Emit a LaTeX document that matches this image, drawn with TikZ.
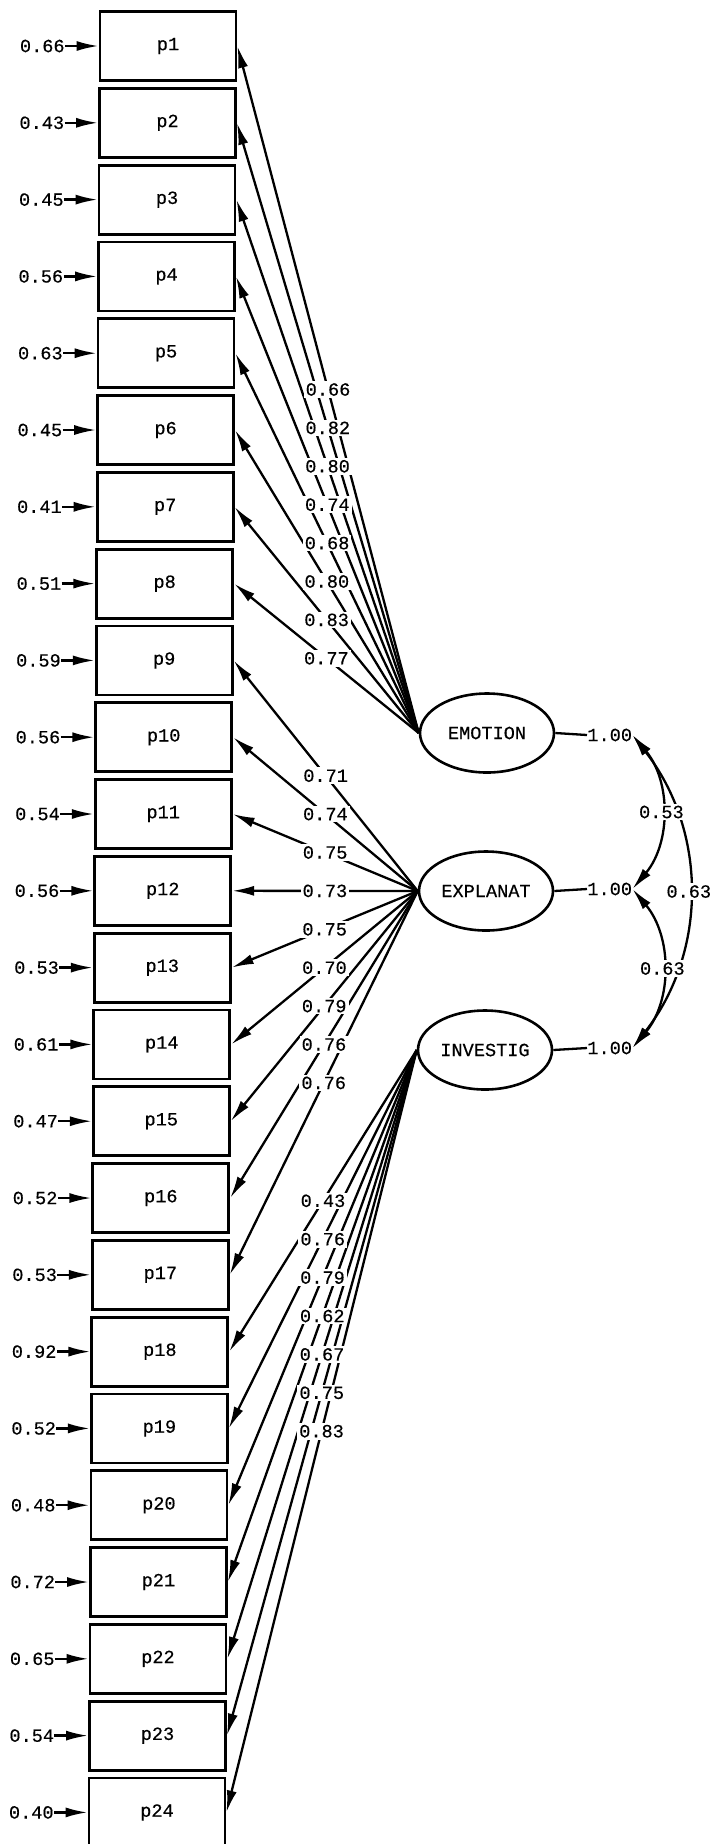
\documentclass[tikz,border=0pt]{standalone}
\usepackage{fontspec}
\setmainfont{Liberation Mono}[FakeBold=0.4]
\usetikzlibrary{arrows.meta,shapes.geometric}
\begin{document}
\begin{tikzpicture}[x=0.5pt,y=-0.5pt,
  font=\fontsize{9.3}{11}\selectfont,
  obs/.style={draw, line width=1.4pt, minimum width=68pt, minimum height=34.5pt, inner sep=0pt},
  lat/.style={draw, ellipse, line width=1.3pt, minimum width=67pt, minimum height=39.5pt, inner sep=0pt},
  tip/.style={-{Latex[length=11pt,width=5pt]}},
  both/.style={{Latex[length=11pt,width=5pt]}-{Latex[length=11pt,width=5pt]}},
  ln/.style={line width=1.15pt},
  lab/.style={fill=white, inner sep=1pt},
  val/.style={inner sep=0pt}]
\useasboundingbox (0,0) rectangle (713,1844);

% observed variables with error variances
\foreach \i/\e in {1/0.66,2/0.43,3/0.45,4/0.56,5/0.63,6/0.45,7/0.41,8/0.51,
                   9/0.59,10/0.56,11/0.54,12/0.56,13/0.53,14/0.61,15/0.47,16/0.52,
                   17/0.53,18/0.92,19/0.52,20/0.48,21/0.72,22/0.65,23/0.54,24/0.40} {
  \pgfmathsetmacro\cx{168-11*(\i-1)/23}
  \pgfmathsetmacro\cy{46+76.8*(\i-1)}
  \node[obs] (p\i) at (\cx,\cy) {p\i};
  \node[val, anchor=east] (e\i) at (\cx-103,\cy) {\e};
  \draw[ln,tip] (e\i.east) -- (p\i.west);
}

% latent variables
\node[lat] (em) at (487,733) {EMOTION};
\node[lat] (ex) at (486,891) {EXPLANAT};
\node[lat] (in) at (485,1050) {INVESTIG};

\node[val, anchor=west] (v1) at (587,735) {1.00};
\node[val, anchor=west] (v2) at (587,889) {1.00};
\node[val, anchor=west] (v3) at (587,1048) {1.00};
\draw[ln] (em.east) -- (v1.west);
\draw[ln] (ex.east) -- (v2.west);
\draw[ln] (in.east) -- (v3.west);

% loadings
\foreach \i in {1,...,8} \draw[ln,tip] (em.west) -- (p\i.east);
\foreach \i in {9,...,17} \draw[ln,tip] (ex.west) -- (p\i.east);
\foreach \i in {18,...,24} \draw[ln,tip] (in.west) -- (p\i.east);

\foreach \i/\l in {1/0.66,2/0.82,3/0.80,4/0.74,5/0.68,6/0.80,7/0.83,8/0.77}
  \path (em.west) -- (p\i.east) node[lab,pos=0.5] {\l};
\foreach \i/\l in {9/0.71,10/0.74,11/0.75,12/0.73,13/0.75,14/0.70,15/0.79,16/0.76,17/0.76}
  \path (ex.west) -- (p\i.east) node[lab,pos=0.5] {\l};
\foreach \i/\l in {18/0.43,19/0.76,20/0.79,21/0.62,22/0.67,23/0.75,24/0.83}
  \path (in.west) -- (p\i.east) node[lab,pos=0.5] {\l};

% covariances
\draw[ln,both] (v1.east) to[bend left=38] node[lab] {0.63} (v3.east);
\draw[ln,both] (v1.east) to[bend left=40] node[lab] {0.53} (v2.east);
\draw[ln,both] (v2.east) to[bend left=40] node[lab] {0.63} (v3.east);
\end{tikzpicture}
\end{document}
